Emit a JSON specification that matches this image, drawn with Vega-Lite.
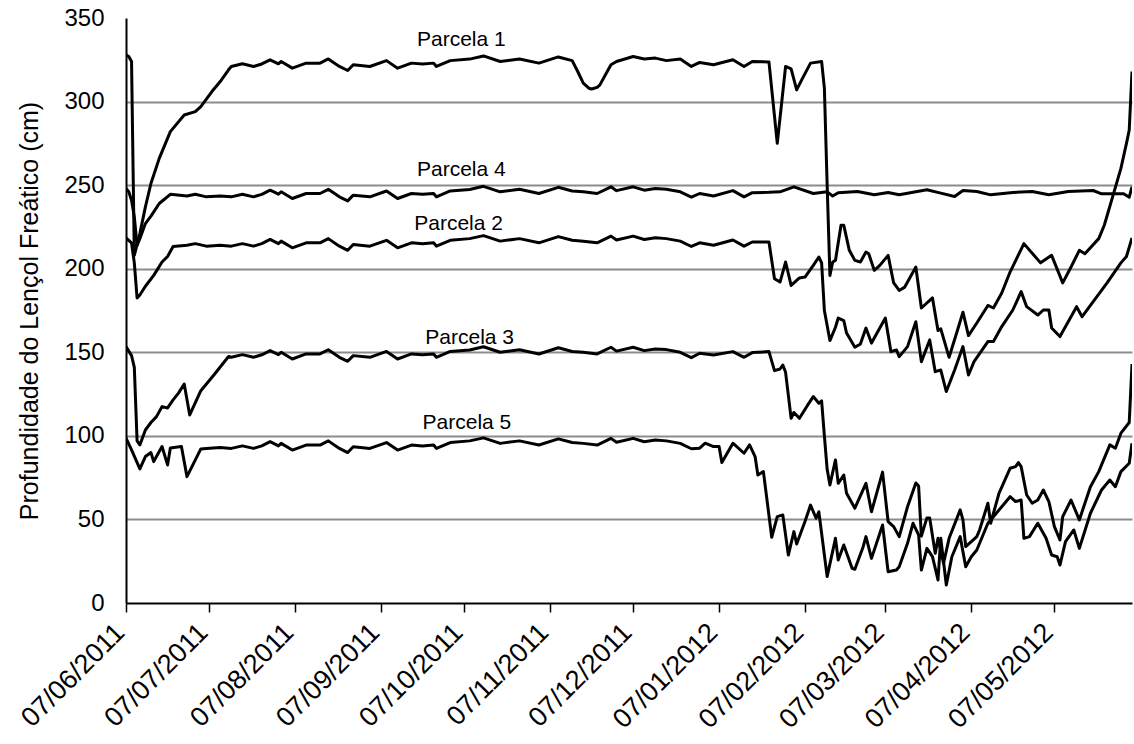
{
  "$schema": "https://vega.github.io/schema/vega-lite/v6.json",
  "width": 1006,
  "height": 585,
  "autosize": {"type": "none"},
  "padding": {"left": 126, "top": 18, "right": 2, "bottom": 141},
  "background": "white",
  "config": {"view": {"stroke": null}},
  "encoding": {
    "x": {
      "field": "d", "type": "temporal",
      "scale": {"type": "utc", "nice": false, "domain": [{"year": 2011, "month": 6, "date": 7, "utc": true}, {"year": 2012, "month": 6, "date": 4, "utc": true}]},
      "axis": {
        "title": null, "grid": false, "format": "%d/%m/%Y",
        "values": [
          {"year": 2011, "month": 6, "date": 7, "utc": true},
          {"year": 2011, "month": 7, "date": 7, "utc": true},
          {"year": 2011, "month": 8, "date": 7, "utc": true},
          {"year": 2011, "month": 9, "date": 7, "utc": true},
          {"year": 2011, "month": 10, "date": 7, "utc": true},
          {"year": 2011, "month": 11, "date": 7, "utc": true},
          {"year": 2011, "month": 12, "date": 7, "utc": true},
          {"year": 2012, "month": 1, "date": 7, "utc": true},
          {"year": 2012, "month": 2, "date": 7, "utc": true},
          {"year": 2012, "month": 3, "date": 7, "utc": true},
          {"year": 2012, "month": 4, "date": 7, "utc": true},
          {"year": 2012, "month": 5, "date": 7, "utc": true}
        ],
        "labelAngle": -45, "labelAlign": "right", "labelBaseline": "middle",
        "labelFont": "Liberation Sans", "labelFontSize": 27, "labelColor": "black",
        "labelPadding": 16, "labelOffset": -6, "labelOverlap": false, "labelFlush": false,
        "domainColor": "black", "domainWidth": 2,
        "ticks": true, "tickColor": "black", "tickWidth": 1.5, "tickSize": 9
      }
    },
    "y": {
      "field": "v", "type": "quantitative",
      "scale": {"domain": [0, 350], "nice": false, "zero": true},
      "axis": {
        "title": "Profundidade do Lençol Freático (cm)",
        "titleFont": "Liberation Sans", "titleFontSize": 25, "titleFontWeight": "normal", "titleColor": "black",
        "titleX": -89, "titleBaseline": "alphabetic",
        "values": [0, 50, 100, 150, 200, 250, 300, 350],
        "labelFont": "Liberation Sans", "labelFontSize": 24, "labelColor": "black", "labelPadding": 22,
        "ticks": false, "tickSize": 0,
        "domainColor": "black", "domainWidth": 2,
        "grid": true, "gridWidth": 2,
        "gridColor": {"condition": {"test": "datum.value >= 350 || datum.value <= 0", "value": "transparent"}, "value": "#8c8c8c"}
      }
    }
  },
  "layer": [
    {
      "data": {"values": [
        {"p":1,"d":"2011-06-07","v":328},{"p":1,"d":"2011-06-08","v":327},{"p":1,"d":"2011-06-09","v":324},{"p":1,"d":"2011-06-10","v":208},{"p":1,"d":"2011-06-12","v":221},{"p":1,"d":"2011-06-14","v":237},{"p":1,"d":"2011-06-16","v":251},{"p":1,"d":"2011-06-19","v":266},{"p":1,"d":"2011-06-23","v":282},{"p":1,"d":"2011-06-28","v":292},{"p":1,"d":"2011-07-02","v":294},{"p":1,"d":"2011-07-04","v":297},{"p":1,"d":"2011-07-08","v":306},{"p":1,"d":"2011-07-11","v":312},{"p":1,"d":"2011-07-14","v":319},{"p":1,"d":"2011-07-15","v":321},{"p":1,"d":"2011-07-19","v":322.6},{"p":1,"d":"2011-07-23","v":321},{"p":1,"d":"2011-07-26","v":322.5},{"p":1,"d":"2011-07-29","v":325},{"p":1,"d":"2011-08-01","v":322.6},{"p":1,"d":"2011-08-02","v":324},{"p":1,"d":"2011-08-06","v":320},{"p":1,"d":"2011-08-11","v":323},{"p":1,"d":"2011-08-16","v":323},{"p":1,"d":"2011-08-19","v":325.5},{"p":1,"d":"2011-08-23","v":321},{"p":1,"d":"2011-08-26","v":318.6},{"p":1,"d":"2011-08-28","v":322},{"p":1,"d":"2011-09-03","v":321},{"p":1,"d":"2011-09-09","v":324.5},{"p":1,"d":"2011-09-13","v":320},{"p":1,"d":"2011-09-18","v":323},{"p":1,"d":"2011-09-22","v":322.5},{"p":1,"d":"2011-09-26","v":323},{"p":1,"d":"2011-09-27","v":321},{"p":1,"d":"2011-10-02","v":324.5},{"p":1,"d":"2011-10-09","v":325.4},{"p":1,"d":"2011-10-14","v":327.3},{"p":1,"d":"2011-10-20","v":324},{"p":1,"d":"2011-10-27","v":325.5},{"p":1,"d":"2011-11-03","v":323},{"p":1,"d":"2011-11-10","v":326.7},{"p":1,"d":"2011-11-15","v":324.5},{"p":1,"d":"2011-11-17","v":318},{"p":1,"d":"2011-11-19","v":311},{"p":1,"d":"2011-11-21","v":308},{"p":1,"d":"2011-11-22","v":307.5},{"p":1,"d":"2011-11-24","v":308.5},{"p":1,"d":"2011-11-25","v":310},{"p":1,"d":"2011-11-27","v":316},{"p":1,"d":"2011-11-29","v":322},{"p":1,"d":"2011-12-01","v":324},{"p":1,"d":"2011-12-07","v":327},{"p":1,"d":"2011-12-11","v":325.5},{"p":1,"d":"2011-12-15","v":326},{"p":1,"d":"2011-12-19","v":324.5},{"p":1,"d":"2011-12-24","v":325.5},{"p":1,"d":"2011-12-28","v":321},{"p":1,"d":"2011-12-31","v":323.4},{"p":1,"d":"2012-01-05","v":322},{"p":1,"d":"2012-01-12","v":325},{"p":1,"d":"2012-01-16","v":321},{"p":1,"d":"2012-01-19","v":324},{"p":1,"d":"2012-01-25","v":323.7},{"p":1,"d":"2012-01-28","v":275},{"p":1,"d":"2012-01-31","v":321},{"p":1,"d":"2012-02-02","v":319.6},{"p":1,"d":"2012-02-04","v":307},{"p":1,"d":"2012-02-06","v":313.6},{"p":1,"d":"2012-02-09","v":323},{"p":1,"d":"2012-02-13","v":324},{"p":1,"d":"2012-02-14","v":308},{"p":1,"d":"2012-02-15","v":250},{"p":1,"d":"2012-02-16","v":196},{"p":1,"d":"2012-02-17","v":204},{"p":1,"d":"2012-02-18","v":205},{"p":1,"d":"2012-02-20","v":226},{"p":1,"d":"2012-02-21","v":226},{"p":1,"d":"2012-02-23","v":211},{"p":1,"d":"2012-02-25","v":205},{"p":1,"d":"2012-02-27","v":204},{"p":1,"d":"2012-02-29","v":210},{"p":1,"d":"2012-03-01","v":209},{"p":1,"d":"2012-03-03","v":199},{"p":1,"d":"2012-03-05","v":202},{"p":1,"d":"2012-03-08","v":208},{"p":1,"d":"2012-03-10","v":191.5},{"p":1,"d":"2012-03-12","v":187},{"p":1,"d":"2012-03-14","v":189},{"p":1,"d":"2012-03-16","v":195},{"p":1,"d":"2012-03-18","v":201},{"p":1,"d":"2012-03-20","v":176.5},{"p":1,"d":"2012-03-24","v":182.5},{"p":1,"d":"2012-03-26","v":163},{"p":1,"d":"2012-03-27","v":164},{"p":1,"d":"2012-03-30","v":147},{"p":1,"d":"2012-04-02","v":163},{"p":1,"d":"2012-04-04","v":174},{"p":1,"d":"2012-04-06","v":160},{"p":1,"d":"2012-04-09","v":167.5},{"p":1,"d":"2012-04-13","v":178},{"p":1,"d":"2012-04-15","v":176.5},{"p":1,"d":"2012-04-18","v":185.5},{"p":1,"d":"2012-04-21","v":198},{"p":1,"d":"2012-04-26","v":215},{"p":1,"d":"2012-05-02","v":203.5},{"p":1,"d":"2012-05-06","v":208},{"p":1,"d":"2012-05-10","v":191.5},{"p":1,"d":"2012-05-13","v":201},{"p":1,"d":"2012-05-16","v":211},{"p":1,"d":"2012-05-18","v":209},{"p":1,"d":"2012-05-23","v":218},{"p":1,"d":"2012-05-25","v":226},{"p":1,"d":"2012-05-28","v":243},{"p":1,"d":"2012-05-31","v":260},{"p":1,"d":"2012-06-02","v":275},{"p":1,"d":"2012-06-03","v":283},{"p":1,"d":"2012-06-04","v":318},

        {"p":2,"d":"2011-06-07","v":218.4},{"p":2,"d":"2011-06-09","v":215.4},{"p":2,"d":"2011-06-10","v":203.5},{"p":2,"d":"2011-06-11","v":182.5},{"p":2,"d":"2011-06-12","v":184.3},{"p":2,"d":"2011-06-14","v":189.5},{"p":2,"d":"2011-06-17","v":196},{"p":2,"d":"2011-06-20","v":204},{"p":2,"d":"2011-06-22","v":207.3},{"p":2,"d":"2011-06-24","v":213.3},{"p":2,"d":"2011-06-29","v":214},{"p":2,"d":"2011-07-02","v":215},{"p":2,"d":"2011-07-06","v":213.5},{"p":2,"d":"2011-07-11","v":214},{"p":2,"d":"2011-07-15","v":213.5},{"p":2,"d":"2011-07-19","v":215},{"p":2,"d":"2011-07-23","v":213.5},{"p":2,"d":"2011-07-26","v":215},{"p":2,"d":"2011-07-29","v":217.5},{"p":2,"d":"2011-08-01","v":215},{"p":2,"d":"2011-08-02","v":216.5},{"p":2,"d":"2011-08-06","v":212.5},{"p":2,"d":"2011-08-11","v":215.5},{"p":2,"d":"2011-08-16","v":215.5},{"p":2,"d":"2011-08-19","v":218},{"p":2,"d":"2011-08-23","v":213.5},{"p":2,"d":"2011-08-26","v":211},{"p":2,"d":"2011-08-28","v":214.5},{"p":2,"d":"2011-09-03","v":213.5},{"p":2,"d":"2011-09-09","v":217},{"p":2,"d":"2011-09-13","v":212.5},{"p":2,"d":"2011-09-18","v":215.5},{"p":2,"d":"2011-09-22","v":215},{"p":2,"d":"2011-09-26","v":215.5},{"p":2,"d":"2011-09-27","v":213.5},{"p":2,"d":"2011-10-02","v":217},{"p":2,"d":"2011-10-09","v":218},{"p":2,"d":"2011-10-14","v":219.8},{"p":2,"d":"2011-10-20","v":216.5},{"p":2,"d":"2011-10-27","v":218},{"p":2,"d":"2011-11-03","v":215.5},{"p":2,"d":"2011-11-10","v":219.2},{"p":2,"d":"2011-11-15","v":217},{"p":2,"d":"2011-11-19","v":216.5},{"p":2,"d":"2011-11-24","v":215.5},{"p":2,"d":"2011-11-29","v":219.5},{"p":2,"d":"2011-12-01","v":217.2},{"p":2,"d":"2011-12-07","v":219.5},{"p":2,"d":"2011-12-11","v":217.5},{"p":2,"d":"2011-12-15","v":218.5},{"p":2,"d":"2011-12-19","v":218},{"p":2,"d":"2011-12-24","v":216.5},{"p":2,"d":"2011-12-28","v":213.3},{"p":2,"d":"2011-12-31","v":215.5},{"p":2,"d":"2012-01-05","v":214},{"p":2,"d":"2012-01-12","v":217.2},{"p":2,"d":"2012-01-16","v":213.5},{"p":2,"d":"2012-01-19","v":216},{"p":2,"d":"2012-01-25","v":216},{"p":2,"d":"2012-01-27","v":194},{"p":2,"d":"2012-01-29","v":192},{"p":2,"d":"2012-01-31","v":204},{"p":2,"d":"2012-02-02","v":190},{"p":2,"d":"2012-02-05","v":194.5},{"p":2,"d":"2012-02-07","v":195},{"p":2,"d":"2012-02-10","v":202},{"p":2,"d":"2012-02-12","v":207},{"p":2,"d":"2012-02-13","v":203.5},{"p":2,"d":"2012-02-14","v":175},{"p":2,"d":"2012-02-16","v":157},{"p":2,"d":"2012-02-18","v":165},{"p":2,"d":"2012-02-19","v":170.5},{"p":2,"d":"2012-02-21","v":169},{"p":2,"d":"2012-02-22","v":161.5},{"p":2,"d":"2012-02-25","v":153},{"p":2,"d":"2012-02-27","v":155},{"p":2,"d":"2012-02-29","v":164.5},{"p":2,"d":"2012-03-02","v":155.5},{"p":2,"d":"2012-03-07","v":170.5},{"p":2,"d":"2012-03-09","v":150.4},{"p":2,"d":"2012-03-11","v":151.4},{"p":2,"d":"2012-03-12","v":147.4},{"p":2,"d":"2012-03-15","v":153.4},{"p":2,"d":"2012-03-18","v":168.3},{"p":2,"d":"2012-03-20","v":144.4},{"p":2,"d":"2012-03-23","v":157.4},{"p":2,"d":"2012-03-25","v":138.4},{"p":2,"d":"2012-03-27","v":139.4},{"p":2,"d":"2012-03-29","v":126.5},{"p":2,"d":"2012-04-01","v":139.4},{"p":2,"d":"2012-04-04","v":153.4},{"p":2,"d":"2012-04-06","v":136.4},{"p":2,"d":"2012-04-08","v":144.4},{"p":2,"d":"2012-04-13","v":156.4},{"p":2,"d":"2012-04-15","v":156.4},{"p":2,"d":"2012-04-18","v":165.4},{"p":2,"d":"2012-04-22","v":175.3},{"p":2,"d":"2012-04-25","v":186.3},{"p":2,"d":"2012-04-27","v":177.3},{"p":2,"d":"2012-05-01","v":172.3},{"p":2,"d":"2012-05-03","v":175.3},{"p":2,"d":"2012-05-05","v":175.3},{"p":2,"d":"2012-05-06","v":164.5},{"p":2,"d":"2012-05-09","v":159.4},{"p":2,"d":"2012-05-13","v":171.3},{"p":2,"d":"2012-05-15","v":177.3},{"p":2,"d":"2012-05-17","v":171.3},{"p":2,"d":"2012-05-21","v":180.3},{"p":2,"d":"2012-05-26","v":191.5},{"p":2,"d":"2012-05-31","v":203.5},{"p":2,"d":"2012-06-02","v":207.3},{"p":2,"d":"2012-06-04","v":218.4},

        {"p":3,"d":"2011-06-07","v":153.4},{"p":3,"d":"2011-06-09","v":148},{"p":3,"d":"2011-06-10","v":141},{"p":3,"d":"2011-06-11","v":97},{"p":3,"d":"2011-06-12","v":94.6},{"p":3,"d":"2011-06-14","v":103.5},{"p":3,"d":"2011-06-16","v":108},{"p":3,"d":"2011-06-18","v":111.5},{"p":3,"d":"2011-06-20","v":117.5},{"p":3,"d":"2011-06-22","v":116.7},{"p":3,"d":"2011-06-24","v":121.5},{"p":3,"d":"2011-06-26","v":125.7},{"p":3,"d":"2011-06-28","v":131},{"p":3,"d":"2011-06-30","v":112.5},{"p":3,"d":"2011-07-04","v":127},{"p":3,"d":"2011-07-09","v":137},{"p":3,"d":"2011-07-14","v":147.5},{"p":3,"d":"2011-07-15","v":147},{"p":3,"d":"2011-07-19","v":148.6},{"p":3,"d":"2011-07-23","v":147},{"p":3,"d":"2011-07-26","v":148.5},{"p":3,"d":"2011-07-29","v":151},{"p":3,"d":"2011-08-01","v":148.6},{"p":3,"d":"2011-08-02","v":150},{"p":3,"d":"2011-08-06","v":146},{"p":3,"d":"2011-08-11","v":149},{"p":3,"d":"2011-08-16","v":149},{"p":3,"d":"2011-08-19","v":151.5},{"p":3,"d":"2011-08-23","v":147},{"p":3,"d":"2011-08-26","v":144.6},{"p":3,"d":"2011-08-28","v":148},{"p":3,"d":"2011-09-03","v":147},{"p":3,"d":"2011-09-09","v":150.5},{"p":3,"d":"2011-09-13","v":146},{"p":3,"d":"2011-09-18","v":149},{"p":3,"d":"2011-09-22","v":148.5},{"p":3,"d":"2011-09-26","v":149},{"p":3,"d":"2011-09-27","v":147},{"p":3,"d":"2011-10-02","v":150.5},{"p":3,"d":"2011-10-09","v":151.4},{"p":3,"d":"2011-10-14","v":153.3},{"p":3,"d":"2011-10-20","v":150},{"p":3,"d":"2011-10-27","v":151.5},{"p":3,"d":"2011-11-03","v":149},{"p":3,"d":"2011-11-10","v":152.7},{"p":3,"d":"2011-11-15","v":150.5},{"p":3,"d":"2011-11-19","v":150},{"p":3,"d":"2011-11-24","v":149},{"p":3,"d":"2011-11-29","v":153},{"p":3,"d":"2011-12-01","v":150.7},{"p":3,"d":"2011-12-07","v":153},{"p":3,"d":"2011-12-11","v":151},{"p":3,"d":"2011-12-15","v":152},{"p":3,"d":"2011-12-19","v":151.6},{"p":3,"d":"2011-12-24","v":150},{"p":3,"d":"2011-12-28","v":146.8},{"p":3,"d":"2011-12-31","v":149.4},{"p":3,"d":"2012-01-05","v":148.4},{"p":3,"d":"2012-01-12","v":150.4},{"p":3,"d":"2012-01-16","v":147},{"p":3,"d":"2012-01-19","v":149.8},{"p":3,"d":"2012-01-25","v":150.4},{"p":3,"d":"2012-01-27","v":139},{"p":3,"d":"2012-01-29","v":140},{"p":3,"d":"2012-01-30","v":142.4},{"p":3,"d":"2012-01-31","v":138},{"p":3,"d":"2012-02-02","v":110.5},{"p":3,"d":"2012-02-03","v":114},{"p":3,"d":"2012-02-05","v":110.5},{"p":3,"d":"2012-02-08","v":118.5},{"p":3,"d":"2012-02-10","v":123.5},{"p":3,"d":"2012-02-12","v":119.5},{"p":3,"d":"2012-02-13","v":121},{"p":3,"d":"2012-02-14","v":100},{"p":3,"d":"2012-02-15","v":80},{"p":3,"d":"2012-02-16","v":70.6},{"p":3,"d":"2012-02-18","v":85.6},{"p":3,"d":"2012-02-19","v":71.6},{"p":3,"d":"2012-02-21","v":76.6},{"p":3,"d":"2012-02-22","v":65.6},{"p":3,"d":"2012-02-25","v":56.7},{"p":3,"d":"2012-02-29","v":71.6},{"p":3,"d":"2012-03-02","v":54.6},{"p":3,"d":"2012-03-06","v":78.3},{"p":3,"d":"2012-03-08","v":48.7},{"p":3,"d":"2012-03-10","v":45.7},{"p":3,"d":"2012-03-12","v":39.7},{"p":3,"d":"2012-03-15","v":57.6},{"p":3,"d":"2012-03-18","v":71.8},{"p":3,"d":"2012-03-19","v":70},{"p":3,"d":"2012-03-20","v":40},{"p":3,"d":"2012-03-22","v":50.9},{"p":3,"d":"2012-03-23","v":50.9},{"p":3,"d":"2012-03-25","v":29.7},{"p":3,"d":"2012-03-26","v":38.7},{"p":3,"d":"2012-03-28","v":23.8},{"p":3,"d":"2012-03-30","v":38.7},{"p":3,"d":"2012-04-03","v":55.7},{"p":3,"d":"2012-04-04","v":49.7},{"p":3,"d":"2012-04-05","v":33.7},{"p":3,"d":"2012-04-07","v":36.7},{"p":3,"d":"2012-04-09","v":39.7},{"p":3,"d":"2012-04-10","v":43.7},{"p":3,"d":"2012-04-13","v":59.7},{"p":3,"d":"2012-04-14","v":47.7},{"p":3,"d":"2012-04-17","v":65.6},{"p":3,"d":"2012-04-21","v":80.6},{"p":3,"d":"2012-04-23","v":81.6},{"p":3,"d":"2012-04-24","v":84},{"p":3,"d":"2012-04-25","v":81.6},{"p":3,"d":"2012-04-27","v":64.6},{"p":3,"d":"2012-04-29","v":59.7},{"p":3,"d":"2012-05-01","v":61.6},{"p":3,"d":"2012-05-03","v":67.6},{"p":3,"d":"2012-05-05","v":60.7},{"p":3,"d":"2012-05-07","v":45.7},{"p":3,"d":"2012-05-09","v":37.7},{"p":3,"d":"2012-05-10","v":51.7},{"p":3,"d":"2012-05-13","v":61.6},{"p":3,"d":"2012-05-16","v":49.7},{"p":3,"d":"2012-05-20","v":69.6},{"p":3,"d":"2012-05-23","v":78.6},{"p":3,"d":"2012-05-27","v":94.6},{"p":3,"d":"2012-05-29","v":92.6},{"p":3,"d":"2012-05-31","v":101.6},{"p":3,"d":"2012-06-03","v":108},{"p":3,"d":"2012-06-04","v":143},

        {"p":4,"d":"2011-06-07","v":248},{"p":4,"d":"2011-06-08","v":246},{"p":4,"d":"2011-06-09","v":241},{"p":4,"d":"2011-06-10","v":231},{"p":4,"d":"2011-06-11","v":214},{"p":4,"d":"2011-06-12","v":218},{"p":4,"d":"2011-06-14","v":227},{"p":4,"d":"2011-06-16","v":231.5},{"p":4,"d":"2011-06-19","v":239},{"p":4,"d":"2011-06-23","v":244.5},{"p":4,"d":"2011-06-29","v":243.5},{"p":4,"d":"2011-07-02","v":244.5},{"p":4,"d":"2011-07-06","v":243},{"p":4,"d":"2011-07-11","v":243.5},{"p":4,"d":"2011-07-15","v":243},{"p":4,"d":"2011-07-19","v":244.6},{"p":4,"d":"2011-07-23","v":243},{"p":4,"d":"2011-07-26","v":244.5},{"p":4,"d":"2011-07-29","v":247},{"p":4,"d":"2011-08-01","v":244.6},{"p":4,"d":"2011-08-02","v":246},{"p":4,"d":"2011-08-06","v":242},{"p":4,"d":"2011-08-11","v":245},{"p":4,"d":"2011-08-16","v":245},{"p":4,"d":"2011-08-19","v":247.5},{"p":4,"d":"2011-08-23","v":243},{"p":4,"d":"2011-08-26","v":240.6},{"p":4,"d":"2011-08-28","v":244},{"p":4,"d":"2011-09-03","v":243},{"p":4,"d":"2011-09-09","v":246.5},{"p":4,"d":"2011-09-13","v":242},{"p":4,"d":"2011-09-18","v":245},{"p":4,"d":"2011-09-22","v":244.5},{"p":4,"d":"2011-09-26","v":245},{"p":4,"d":"2011-09-27","v":243},{"p":4,"d":"2011-10-02","v":246.5},{"p":4,"d":"2011-10-09","v":247.4},{"p":4,"d":"2011-10-14","v":249.3},{"p":4,"d":"2011-10-20","v":246},{"p":4,"d":"2011-10-27","v":247.5},{"p":4,"d":"2011-11-03","v":245},{"p":4,"d":"2011-11-10","v":248.7},{"p":4,"d":"2011-11-15","v":246.5},{"p":4,"d":"2011-11-19","v":246},{"p":4,"d":"2011-11-24","v":245},{"p":4,"d":"2011-11-29","v":249},{"p":4,"d":"2011-12-01","v":246.7},{"p":4,"d":"2011-12-07","v":249},{"p":4,"d":"2011-12-11","v":247},{"p":4,"d":"2011-12-15","v":248},{"p":4,"d":"2011-12-19","v":247.6},{"p":4,"d":"2011-12-24","v":246},{"p":4,"d":"2011-12-28","v":242.8},{"p":4,"d":"2011-12-31","v":245},{"p":4,"d":"2012-01-05","v":243.5},{"p":4,"d":"2012-01-12","v":246.7},{"p":4,"d":"2012-01-16","v":243},{"p":4,"d":"2012-01-19","v":245.5},{"p":4,"d":"2012-01-25","v":245.7},{"p":4,"d":"2012-01-29","v":246},{"p":4,"d":"2012-02-03","v":249},{"p":4,"d":"2012-02-10","v":245},{"p":4,"d":"2012-02-15","v":246},{"p":4,"d":"2012-02-17","v":243.5},{"p":4,"d":"2012-02-19","v":245.5},{"p":4,"d":"2012-02-26","v":246.2},{"p":4,"d":"2012-03-03","v":244.2},{"p":4,"d":"2012-03-08","v":245.6},{"p":4,"d":"2012-03-12","v":244.2},{"p":4,"d":"2012-03-22","v":247.2},{"p":4,"d":"2012-03-27","v":245.2},{"p":4,"d":"2012-04-01","v":243.2},{"p":4,"d":"2012-04-04","v":246.8},{"p":4,"d":"2012-04-09","v":246.2},{"p":4,"d":"2012-04-14","v":244.2},{"p":4,"d":"2012-04-22","v":245.6},{"p":4,"d":"2012-04-29","v":246.2},{"p":4,"d":"2012-05-05","v":244.2},{"p":4,"d":"2012-05-12","v":246.2},{"p":4,"d":"2012-05-21","v":246.8},{"p":4,"d":"2012-05-24","v":244.8},{"p":4,"d":"2012-06-01","v":244.8},{"p":4,"d":"2012-06-03","v":242.8},{"p":4,"d":"2012-06-04","v":249},

        {"p":5,"d":"2011-06-07","v":98.7},{"p":5,"d":"2011-06-09","v":91.6},{"p":5,"d":"2011-06-12","v":80.2},{"p":5,"d":"2011-06-14","v":87.6},{"p":5,"d":"2011-06-16","v":90},{"p":5,"d":"2011-06-17","v":84.6},{"p":5,"d":"2011-06-20","v":93.6},{"p":5,"d":"2011-06-22","v":82.6},{"p":5,"d":"2011-06-23","v":92.8},{"p":5,"d":"2011-06-27","v":93.6},{"p":5,"d":"2011-06-29","v":75.6},{"p":5,"d":"2011-07-04","v":92.2},{"p":5,"d":"2011-07-06","v":92.5},{"p":5,"d":"2011-07-11","v":93},{"p":5,"d":"2011-07-15","v":92.5},{"p":5,"d":"2011-07-19","v":94},{"p":5,"d":"2011-07-23","v":92.5},{"p":5,"d":"2011-07-26","v":94},{"p":5,"d":"2011-07-29","v":96.5},{"p":5,"d":"2011-08-01","v":94},{"p":5,"d":"2011-08-02","v":95.5},{"p":5,"d":"2011-08-06","v":91.5},{"p":5,"d":"2011-08-11","v":94.5},{"p":5,"d":"2011-08-16","v":94.5},{"p":5,"d":"2011-08-19","v":97},{"p":5,"d":"2011-08-23","v":92.5},{"p":5,"d":"2011-08-26","v":90},{"p":5,"d":"2011-08-28","v":93.5},{"p":5,"d":"2011-09-03","v":92.5},{"p":5,"d":"2011-09-09","v":96},{"p":5,"d":"2011-09-13","v":91.5},{"p":5,"d":"2011-09-18","v":94.5},{"p":5,"d":"2011-09-22","v":94},{"p":5,"d":"2011-09-26","v":94.5},{"p":5,"d":"2011-09-27","v":92.5},{"p":5,"d":"2011-10-02","v":96},{"p":5,"d":"2011-10-09","v":97},{"p":5,"d":"2011-10-14","v":98.8},{"p":5,"d":"2011-10-20","v":95.5},{"p":5,"d":"2011-10-27","v":97},{"p":5,"d":"2011-11-03","v":94.5},{"p":5,"d":"2011-11-10","v":98.2},{"p":5,"d":"2011-11-15","v":96},{"p":5,"d":"2011-11-19","v":95.5},{"p":5,"d":"2011-11-24","v":94.5},{"p":5,"d":"2011-11-29","v":98.5},{"p":5,"d":"2011-12-01","v":96.2},{"p":5,"d":"2011-12-07","v":98.5},{"p":5,"d":"2011-12-11","v":96.5},{"p":5,"d":"2011-12-15","v":97.5},{"p":5,"d":"2011-12-19","v":97},{"p":5,"d":"2011-12-24","v":95.5},{"p":5,"d":"2011-12-28","v":92.3},{"p":5,"d":"2011-12-31","v":92.6},{"p":5,"d":"2012-01-02","v":95.6},{"p":5,"d":"2012-01-05","v":93.6},{"p":5,"d":"2012-01-07","v":93.6},{"p":5,"d":"2012-01-08","v":84},{"p":5,"d":"2012-01-12","v":95.6},{"p":5,"d":"2012-01-16","v":89.6},{"p":5,"d":"2012-01-18","v":94.6},{"p":5,"d":"2012-01-20","v":87.6},{"p":5,"d":"2012-01-21","v":76.6},{"p":5,"d":"2012-01-23","v":78.6},{"p":5,"d":"2012-01-26","v":39.3},{"p":5,"d":"2012-01-28","v":51.7},{"p":5,"d":"2012-01-30","v":52.7},{"p":5,"d":"2012-02-01","v":28.7},{"p":5,"d":"2012-02-03","v":42.7},{"p":5,"d":"2012-02-04","v":35.3},{"p":5,"d":"2012-02-07","v":48.7},{"p":5,"d":"2012-02-09","v":58.6},{"p":5,"d":"2012-02-11","v":50.7},{"p":5,"d":"2012-02-12","v":54.6},{"p":5,"d":"2012-02-15","v":15.8},{"p":5,"d":"2012-02-18","v":38.7},{"p":5,"d":"2012-02-19","v":25.7},{"p":5,"d":"2012-02-21","v":34.7},{"p":5,"d":"2012-02-24","v":20.8},{"p":5,"d":"2012-02-25","v":20.2},{"p":5,"d":"2012-02-28","v":33.7},{"p":5,"d":"2012-02-29","v":39.7},{"p":5,"d":"2012-03-02","v":26.7},{"p":5,"d":"2012-03-06","v":46.7},{"p":5,"d":"2012-03-08","v":18.7},{"p":5,"d":"2012-03-11","v":19.7},{"p":5,"d":"2012-03-12","v":21.7},{"p":5,"d":"2012-03-15","v":35.7},{"p":5,"d":"2012-03-17","v":47.7},{"p":5,"d":"2012-03-19","v":40.7},{"p":5,"d":"2012-03-20","v":19.7},{"p":5,"d":"2012-03-22","v":32.7},{"p":5,"d":"2012-03-24","v":27.7},{"p":5,"d":"2012-03-26","v":13.8},{"p":5,"d":"2012-03-27","v":38.7},{"p":5,"d":"2012-03-29","v":10.8},{"p":5,"d":"2012-03-31","v":27.7},{"p":5,"d":"2012-04-03","v":39.7},{"p":5,"d":"2012-04-05","v":21.7},{"p":5,"d":"2012-04-07","v":27.7},{"p":5,"d":"2012-04-09","v":31.7},{"p":5,"d":"2012-04-13","v":47.7},{"p":5,"d":"2012-04-18","v":57.6},{"p":5,"d":"2012-04-21","v":63.6},{"p":5,"d":"2012-04-23","v":60.7},{"p":5,"d":"2012-04-25","v":61.6},{"p":5,"d":"2012-04-26","v":38.7},{"p":5,"d":"2012-04-28","v":39.7},{"p":5,"d":"2012-05-01","v":47.7},{"p":5,"d":"2012-05-04","v":38.7},{"p":5,"d":"2012-05-06","v":28.7},{"p":5,"d":"2012-05-08","v":27.7},{"p":5,"d":"2012-05-09","v":22.7},{"p":5,"d":"2012-05-11","v":36.7},{"p":5,"d":"2012-05-14","v":43.7},{"p":5,"d":"2012-05-16","v":32.7},{"p":5,"d":"2012-05-20","v":53.7},{"p":5,"d":"2012-05-24","v":67.6},{"p":5,"d":"2012-05-27","v":73.6},{"p":5,"d":"2012-05-29","v":69.6},{"p":5,"d":"2012-05-31","v":78.6},{"p":5,"d":"2012-06-03","v":83.6},{"p":5,"d":"2012-06-04","v":95.6}
      ]},
      "mark": {"type": "line", "color": "black", "strokeWidth": 3, "strokeJoin": "round", "clip": true},
      "encoding": {"detail": {"field": "p", "type": "nominal"}}
    },
    {
      "data": {"values": [
        {"t": "Parcela 1", "d": "2011-10-06", "v": 337},
        {"t": "Parcela 4", "d": "2011-10-06", "v": 259},
        {"t": "Parcela 2", "d": "2011-10-05", "v": 226.5},
        {"t": "Parcela 3", "d": "2011-10-09", "v": 158.6},
        {"t": "Parcela 5", "d": "2011-10-08", "v": 107.7}
      ]},
      "mark": {"type": "text", "font": "Liberation Sans", "fontSize": 21, "color": "black", "align": "center", "baseline": "middle"},
      "encoding": {"text": {"field": "t", "type": "nominal"}}
    }
  ]
}
